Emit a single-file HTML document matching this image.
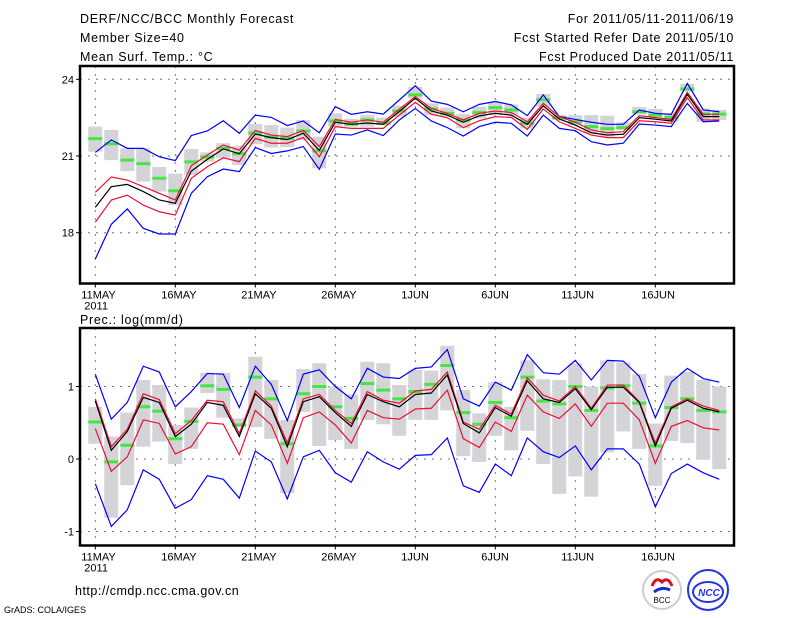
<!DOCTYPE html>
<html><head><meta charset="utf-8">
<style>
body{margin:0;background:#fff;}
svg{display:block;font-family:"Liberation Sans",sans-serif;}
</style></head>
<body>
<svg id="c" width="800" height="618" viewBox="0 0 800 618"></svg>
<script>
const days=["11MAY","16MAY","21MAY","26MAY","1JUN","6JUN","11JUN","16JUN"];
const tTicks=[24,21,18];
const pTicks=[1,0,-1];
// temperature (deg C)
const tMean=[18.99,19.80,19.89,19.61,19.28,19.15,20.41,20.87,21.28,21.09,21.86,21.72,21.64,21.89,21.22,22.32,22.24,22.29,22.24,22.74,23.26,22.76,22.60,22.32,22.57,22.67,22.60,22.24,22.96,22.45,22.21,21.91,21.82,21.85,22.50,22.44,22.37,23.41,22.54,22.54];
const tRedHi=[19.58,20.18,20.06,19.80,19.54,19.28,20.62,21.04,21.43,21.23,22.00,21.82,21.76,22.00,21.37,22.43,22.32,22.41,22.32,22.83,23.32,22.86,22.67,22.41,22.67,22.76,22.70,22.34,23.06,22.54,22.32,22.02,21.91,21.95,22.58,22.50,22.43,23.49,22.63,22.63];
const tRedLo=[18.41,19.28,19.47,19.08,18.82,18.69,20.13,20.58,20.93,20.78,21.69,21.50,21.50,21.72,20.97,22.15,22.08,22.08,22.08,22.60,23.10,22.63,22.50,22.11,22.38,22.54,22.51,22.04,22.84,22.34,22.08,21.82,21.72,21.72,22.38,22.34,22.28,23.28,22.41,22.41];
const tBlueHi=[21.14,21.63,21.30,21.30,20.97,20.82,21.80,21.98,22.38,21.89,22.60,22.51,22.19,22.37,21.91,22.93,22.63,22.73,22.64,23.19,23.75,23.15,23.02,22.73,23.02,23.13,23.00,22.58,23.39,22.54,22.43,22.32,22.24,22.24,22.80,22.67,22.63,23.84,22.80,22.73];
const tBlueLo=[16.97,18.33,18.93,18.17,17.95,17.95,19.54,20.19,20.49,20.39,21.33,21.10,21.20,21.37,20.48,21.86,21.82,22.02,21.80,22.41,22.86,22.37,22.11,21.78,22.15,22.32,22.28,21.78,22.60,22.08,21.99,21.56,21.43,21.50,22.25,22.21,22.15,23.06,22.34,22.37];
const tObs=[21.68,21.48,20.84,20.70,20.13,19.64,20.77,20.96,21.30,21.09,21.90,21.74,21.69,21.98,21.20,22.37,22.25,22.41,22.28,22.76,23.39,22.84,22.67,22.41,22.70,22.89,22.80,22.28,23.20,22.50,22.34,22.15,22.07,22.11,22.73,22.60,22.51,23.62,22.64,22.64];
const tBoxHi=[22.15,22.02,21.30,21.30,20.57,20.31,21.27,21.14,21.50,21.40,22.25,22.21,22.11,22.41,21.76,22.67,22.45,22.60,22.50,22.97,23.70,23.06,22.89,22.64,22.93,23.10,23.02,22.50,23.43,22.60,22.60,22.60,22.58,22.32,22.92,22.84,22.67,23.82,22.86,22.80];
const tBoxLo=[21.17,20.84,20.41,20.00,19.61,19.08,20.26,20.78,20.93,20.65,21.46,21.33,21.35,21.63,20.52,22.15,22.15,22.15,22.21,22.54,23.26,22.60,22.54,22.08,22.47,22.60,22.60,22.08,22.93,22.41,22.21,21.89,21.76,22.02,22.63,22.47,22.34,23.52,22.34,22.41];
// precipitation log(mm/d)
const pMean=[0.80,0.12,0.38,0.85,0.78,0.31,0.48,0.78,0.74,0.31,0.90,0.70,0.17,0.79,0.86,0.64,0.45,0.89,0.79,0.72,0.89,0.91,1.16,0.49,0.36,0.71,0.59,1.08,0.83,0.78,0.97,0.68,0.99,0.99,0.78,0.18,0.70,0.81,0.70,0.65];
const pRedHi=[0.83,0.17,0.41,0.90,0.82,0.35,0.53,0.81,0.79,0.35,0.94,0.73,0.22,0.83,0.89,0.67,0.49,0.93,0.81,0.77,0.94,0.96,1.20,0.51,0.41,0.74,0.62,1.12,0.88,0.80,1.00,0.70,1.02,1.02,0.79,0.22,0.72,0.83,0.73,0.67];
const pRedLo=[0.42,-0.17,0.03,0.54,0.49,0.07,0.17,0.50,0.48,0.06,0.67,0.47,-0.06,0.57,0.65,0.47,0.22,0.67,0.57,0.55,0.69,0.70,0.95,0.28,0.16,0.51,0.38,0.88,0.65,0.56,0.76,0.45,0.77,0.77,0.54,-0.06,0.45,0.53,0.43,0.40];
const pBlueHi=[1.17,0.55,0.78,1.28,1.20,0.72,0.93,1.18,1.17,0.71,1.28,1.03,0.53,1.17,1.23,1.00,0.83,1.25,1.13,1.11,1.25,1.27,1.51,0.83,0.73,1.06,0.95,1.44,1.19,1.17,1.36,1.09,1.36,1.35,1.14,0.57,1.06,1.25,1.11,1.06];
const pBlueLo=[-0.34,-0.93,-0.70,-0.15,-0.28,-0.68,-0.56,-0.23,-0.28,-0.54,0.11,-0.04,-0.55,0.03,0.12,-0.19,-0.32,0.10,-0.04,-0.14,0.05,0.06,0.29,-0.37,-0.46,-0.07,-0.23,0.29,0.10,0.02,0.18,-0.15,0.14,0.14,-0.07,-0.66,-0.20,-0.07,-0.19,-0.28];
const pObs=[0.51,-0.04,0.19,0.72,0.66,0.28,0.52,1.01,0.96,0.47,1.13,0.83,0.21,0.90,1.00,0.72,0.56,1.04,0.95,0.83,0.93,1.03,1.29,0.64,0.48,0.78,0.57,1.13,0.80,0.76,1.00,0.67,0.98,1.01,0.77,0.18,0.71,0.83,0.67,0.65];
const pBoxHi=[0.72,0.31,0.64,1.09,1.02,0.47,0.71,1.19,1.19,0.56,1.41,1.09,0.54,1.24,1.32,1.00,0.89,1.34,1.32,1.02,1.23,1.22,1.56,0.95,0.63,1.06,0.72,1.36,1.10,1.09,1.32,1.00,1.36,1.33,1.17,0.49,1.15,1.20,1.09,1.00];
const pBoxLo=[0.21,-0.81,-0.36,0.17,0.24,-0.07,0.14,0.91,0.57,0.44,0.44,0.28,-0.47,0.65,0.18,0.26,0.14,0.54,0.48,0.32,0.54,0.54,0.67,0.04,-0.04,0.32,0.12,0.39,-0.07,-0.48,-0.24,-0.52,0.09,0.38,0.14,-0.37,0.25,0.22,-0.01,-0.14];

const NS="http://www.w3.org/2000/svg";
const svg=document.getElementById('c');
function mk(tag,attrs,parent){const e=document.createElementNS(NS,tag);for(const k in attrs)e.setAttribute(k,attrs[k]);(parent||svg).appendChild(e);return e;}
const X=d=>95.3+16*d;
const YT=v=>79.3+(24-v)*25.57;
const YP=v=>459-v*72.5;
const L=80,R=734;

function txt(x,y,s,anchor,size,name,parent,ls){
  const t=mk('text',{x:x,y:y,'font-size':size||12,'text-anchor':anchor||'start',fill:'#000'},parent);
  if(ls) t.setAttribute('letter-spacing',ls);
  t.textContent=s;
  
  
  return t;
}

txt(80,23,"DERF/NCC/BCC Monthly Forecast","start",12.5,"chart-title",null,0.7);
txt(80,42,"Member Size=40","start",12.5,"member-size",null,0.7);
txt(80,61,"Mean Surf. Temp.: °C","start",12.5,"temp-panel-title",null,0.7);
txt(734,23,"For 2011/05/11-2011/06/19","end",12.5,"forecast-period",null,0.7);
txt(734,42,"Fcst Started Refer Date 2011/05/10","end",12.5,"start-date",null,0.7);
txt(734,61,"Fcst Produced Date 2011/05/11","end",12.5,"produced-date",null,0.7);
txt(80,324,"Prec.: log(mm/d)","start",12.5,"prec-panel-title",null,0.7);
txt(75,595,"http://cmdp.ncc.cma.gov.cn","start",12.5,"source-url",null,0.5);
txt(4,613,"GrADS: COLA/IGES","start",9,"grads-credit");

function panel(name,top,bot,Y,ticks,mean,rh,rl,bh,bl,obs,boxH,boxL){
  const g=mk('g',{});
  
  
  days.forEach((d,i)=>{
    const x=X(i*5);
    const gl=mk('line',{x1:x,x2:x,y1:top,y2:bot,stroke:'#777','stroke-dasharray':'2,6','stroke-width':1},g);
    
    
    const tk=mk('line',{x1:x,x2:x,y1:bot,y2:bot+4,stroke:'#000'},g);
    
    
    txt(x-14,bot+15,d,"start",11,"x-tick-label",g);
  });
  txt(X(0)-11,bot+26,"2011","start",11,"x-year-label",g);
  ticks.forEach(v=>{
    const y=Y(v);
    const gl=mk('line',{x1:L,x2:R,y1:y,y2:y,stroke:'#777','stroke-dasharray':'2,6'},g);
    
    
    const tk=mk('line',{x1:L-4,x2:L,y1:y,y2:y,stroke:'#000'},g);
    
    
    txt(L-6,y+4,String(v),"end",11,"y-tick-label",g);
  });
  boxH.forEach((v,i)=>{
    const y1=Y(v),y2=Y(boxL[i]);
    const r=mk('rect',{x:X(i)-7,y:y1,width:14,height:Math.max(1,y2-y1),fill:'#d3d3d8'},g);
    
    
  });
  obs.forEach((v,i)=>{
    const r=mk('rect',{x:X(i)-7,y:Y(v)-1.5,width:14,height:3,fill:'#44e644'},g);
    
    
  });
  const line=(arr,col,nm)=>{
    const p=mk('polyline',{points:arr.map((v,i)=>X(i)+','+Y(v)).join(' '),fill:'none',stroke:col,'stroke-width':1.2},g);
    
    
  };
  line(bh,'#0000ff','blue-upper-line');
  line(bl,'#0000ff','blue-lower-line');
  line(rh,'#ee1133','red-upper-line');
  line(rl,'#ee1133','red-lower-line');
  line(mean,'#000','ensemble-mean-line');
  const fr=mk('rect',{x:L,y:top,width:R-L,height:bot-top,fill:'none',stroke:'#000','stroke-width':2.5},g);
  
  
}
panel('temperature-panel',66,283.5,YT,tTicks,tMean,tRedHi,tRedLo,tBlueHi,tBlueLo,tObs,tBoxHi,tBoxLo);
panel('precip-panel',328,545.5,YP,pTicks,pMean,pRedHi,pRedLo,pBlueHi,pBlueLo,pObs,pBoxHi,pBoxLo);

const lg=mk('g',{});


mk('circle',{cx:662,cy:590,r:19,fill:'#fff',stroke:'#ccc','stroke-width':2},lg);
mk('path',{d:'M652 586 q4 -10 10 -4 q6 -6 10 4',fill:'none',stroke:'#e01020','stroke-width':3},lg);
mk('path',{d:'M654 592 q8 -6 16 -2',fill:'none',stroke:'#1030d0','stroke-width':3},lg);
txt(662,603,"BCC","middle",8,"bcc-text",lg);
const ng=mk('g',{});


mk('circle',{cx:708,cy:590,r:20,fill:'#fff',stroke:'#2233ee','stroke-width':2},ng);
mk('ellipse',{cx:708,cy:592,rx:15,ry:10,fill:'none',stroke:'#2233ee','stroke-width':2},ng);
const nt=txt(709,596,"NCC","middle",10,"ncc-text",ng);
nt.setAttribute('fill','#2233ee');nt.setAttribute('font-style','italic');nt.setAttribute('font-weight','bold');
</script>
</body></html>
